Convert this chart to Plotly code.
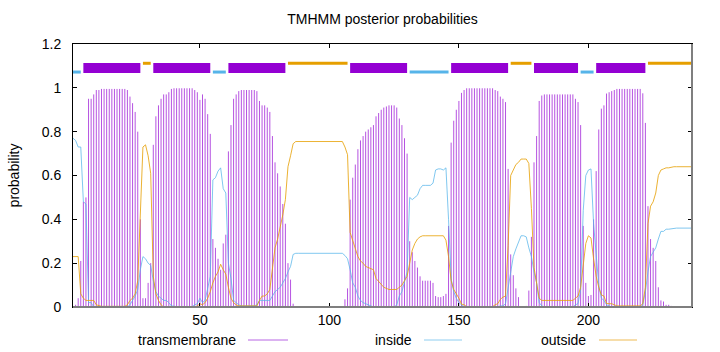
import plotly.graph_objects as go

# ---------------- data (residue 1..240) ----------------
residues = list(range(1, 241))

transmembrane = [
    0.00, 0.01, 0.04, 0.21, 0.48, 0.50, 0.95, 0.95, 0.97, 0.99,
    0.99, 0.995, 0.995, 0.995, 0.995, 0.995, 0.995, 0.995, 0.995, 0.995,
    0.995, 0.99, 0.96, 0.93, 0.89, 0.80, 0.40, 0.04, 0.04, 0.11,
    0.20, 0.74, 0.87, 0.92, 0.95, 0.97, 0.97, 0.98, 0.995, 0.998,
    0.998, 0.998, 0.998, 0.998, 0.998, 0.998, 0.998, 0.99, 0.98, 0.945,
    0.97, 0.95, 0.88, 0.79, 0.31, 0.27, 0.22, 0.17, 0.29, 0.33,
    0.71, 0.83, 0.95, 0.97, 0.985, 0.99, 0.99, 0.99, 0.99, 0.99,
    0.99, 0.985, 0.94, 0.92, 0.92, 0.91, 0.89, 0.78, 0.66, 0.61,
    0.55, 0.47, 0.38, 0.20, 0.125, 0.015, 0.0, 0.0, 0.0, 0.0,
    0.0, 0.0, 0.0, 0.0, 0.0, 0.0, 0.0, 0.0, 0.0, 0.0,
    0.0, 0.0, 0.0, 0.0, 0.0, 0.035, 0.085, 0.49, 0.59, 0.65,
    0.72, 0.76, 0.78, 0.80, 0.81, 0.82, 0.83, 0.87, 0.885, 0.90,
    0.91, 0.915, 0.92, 0.92, 0.92, 0.91, 0.86, 0.83, 0.77, 0.70,
    0.30, 0.25, 0.21, 0.18, 0.14, 0.12, 0.12, 0.12, 0.12, 0.11,
    0.05, 0.045, 0.045, 0.05, 0.06, 0.37, 0.75, 0.85, 0.90, 0.94,
    0.977, 0.99, 0.998, 0.998, 0.998, 0.998, 0.998, 0.998, 0.998, 0.998,
    0.998, 0.998, 0.998, 0.99, 0.985, 0.96, 0.95, 0.935, 0.63, 0.24,
    0.145, 0.085, 0.045, 0.0, 0.0, 0.005, 0.075, 0.32, 0.66, 0.78,
    0.94, 0.965, 0.97, 0.97, 0.97, 0.97, 0.97, 0.97, 0.97, 0.97,
    0.97, 0.97, 0.97, 0.97, 0.95, 0.935, 0.83, 0.37, 0.11, 0.05,
    0.055, 0.40, 0.62, 0.81, 0.905, 0.92, 0.974, 0.98, 0.985, 0.99,
    0.995, 0.995, 0.995, 0.995, 0.995, 0.995, 0.995, 0.995, 0.995, 0.995,
    0.975, 0.84, 0.46, 0.31, 0.27, 0.21, 0.09, 0.03, 0.025, 0.01,
    0.01, 0.005, 0.0, 0.0, 0.0, 0.0, 0.0, 0.0, 0.0, 0.0,
]

inside = [
    0.77, 0.76, 0.73, 0.73, 0.48, 0.47, 0.02, 0.02, 0.0, 0.0,
    0.002, 0.002, 0.002, 0.002, 0.002, 0.002, 0.002, 0.002, 0.002, 0.002,
    0.002, 0.0, 0.01, 0.03, 0.05, 0.08, 0.17, 0.23, 0.22, 0.20,
    0.19, 0.12, 0.07, 0.05, 0.04, 0.03, 0.03, 0.02, 0.005, 0.002,
    0.002, 0.002, 0.002, 0.002, 0.002, 0.002, 0.002, 0.01, 0.015, 0.04,
    0.02, 0.03, 0.08, 0.14, 0.58, 0.59, 0.62, 0.635, 0.54, 0.52,
    0.20, 0.13, 0.03, 0.02, 0.01, 0.005, 0.005, 0.005, 0.005, 0.005,
    0.005, 0.01, 0.03, 0.03, 0.03, 0.03, 0.03, 0.05, 0.07, 0.08,
    0.09, 0.11, 0.13, 0.16, 0.185, 0.24, 0.245, 0.245, 0.245, 0.245,
    0.245, 0.245, 0.245, 0.245, 0.245, 0.245, 0.245, 0.245, 0.245, 0.245,
    0.245, 0.245, 0.245, 0.245, 0.245, 0.235, 0.22, 0.17, 0.11, 0.09,
    0.05, 0.03, 0.02, 0.015, 0.01, 0.005, 0.0, 0.0, 0.0, 0.0,
    0.0, 0.0, 0.0, 0.0, 0.0, 0.01, 0.05, 0.07, 0.11, 0.16,
    0.50, 0.49, 0.50, 0.51, 0.54, 0.555, 0.555, 0.555, 0.555, 0.565,
    0.625, 0.63, 0.63, 0.625, 0.635, 0.40, 0.13, 0.07, 0.04, 0.02,
    0.01, 0.0, 0.0, 0.0, 0.0, 0.0, 0.0, 0.0, 0.0, 0.0,
    0.0, 0.0, 0.0, 0.0, 0.0, 0.005, 0.005, 0.015, 0.09, 0.16,
    0.23, 0.265, 0.295, 0.325, 0.325, 0.32, 0.27, 0.23, 0.16, 0.11,
    0.02, 0.005, 0.0, 0.0, 0.0, 0.0, 0.0, 0.0, 0.0, 0.0,
    0.0, 0.0, 0.0, 0.0, 0.01, 0.015, 0.08, 0.44, 0.60, 0.625,
    0.63, 0.38, 0.24, 0.10, 0.04, 0.03, 0.01, 0.005, 0.0, 0.0,
    0.0, 0.0, 0.0, 0.0, 0.0, 0.0, 0.0, 0.0, 0.0, 0.0,
    0.01, 0.07, 0.16, 0.23, 0.25, 0.27, 0.31, 0.345, 0.345, 0.355,
    0.355, 0.357, 0.36, 0.36, 0.36, 0.36, 0.36, 0.36, 0.36, 0.36,
]

outside = [
    0.23, 0.23, 0.23, 0.06, 0.04, 0.03, 0.03, 0.03, 0.03, 0.01,
    0.005, 0.003, 0.003, 0.003, 0.003, 0.003, 0.003, 0.003, 0.003, 0.003,
    0.003, 0.01, 0.03, 0.04, 0.06, 0.12, 0.43, 0.73, 0.74, 0.69,
    0.61, 0.14, 0.06, 0.03, 0.01, 0.0, 0.0, 0.0, 0.0, 0.0,
    0.0, 0.0, 0.0, 0.0, 0.0, 0.0, 0.0, 0.0, 0.005, 0.015,
    0.01, 0.02, 0.04, 0.07, 0.11, 0.14, 0.16, 0.195, 0.17, 0.15,
    0.09, 0.04, 0.02, 0.01, 0.005, 0.005, 0.005, 0.005, 0.005, 0.005,
    0.005, 0.005, 0.03, 0.05, 0.05, 0.06, 0.08, 0.17, 0.27, 0.31,
    0.36, 0.42, 0.49, 0.64, 0.69, 0.745, 0.755, 0.755, 0.755, 0.755,
    0.755, 0.755, 0.755, 0.755, 0.755, 0.755, 0.755, 0.755, 0.755, 0.755,
    0.755, 0.755, 0.755, 0.755, 0.755, 0.73, 0.695, 0.34, 0.30, 0.26,
    0.23, 0.21, 0.20, 0.185, 0.18, 0.175, 0.17, 0.13, 0.115, 0.10,
    0.09, 0.085, 0.08, 0.08, 0.08, 0.08, 0.09, 0.10, 0.12, 0.14,
    0.20, 0.26, 0.29, 0.31, 0.32, 0.325, 0.325, 0.325, 0.325, 0.325,
    0.325, 0.325, 0.325, 0.325, 0.305, 0.23, 0.12, 0.08, 0.06, 0.04,
    0.013, 0.01, 0.002, 0.002, 0.002, 0.002, 0.002, 0.002, 0.002, 0.002,
    0.002, 0.002, 0.002, 0.01, 0.015, 0.035, 0.045, 0.05, 0.28, 0.60,
    0.625, 0.65, 0.66, 0.675, 0.675, 0.675, 0.655, 0.45, 0.18, 0.11,
    0.04, 0.03, 0.03, 0.03, 0.03, 0.03, 0.03, 0.03, 0.03, 0.03,
    0.03, 0.03, 0.03, 0.03, 0.04, 0.05, 0.09, 0.19, 0.29, 0.325,
    0.315, 0.22, 0.14, 0.09, 0.055, 0.05, 0.016, 0.015, 0.015, 0.01,
    0.005, 0.005, 0.005, 0.005, 0.005, 0.005, 0.005, 0.005, 0.005, 0.005,
    0.015, 0.09, 0.38, 0.46, 0.48, 0.52, 0.60, 0.625, 0.63, 0.635,
    0.635, 0.638, 0.64, 0.64, 0.64, 0.64, 0.64, 0.64, 0.64, 0.64,
]

# predicted topology segments (top bars)
seg_type = ["inside", "TMhelix", "outside", "TMhelix", "inside", "TMhelix", "outside",
            "TMhelix", "inside", "TMhelix", "outside", "TMhelix", "inside", "TMhelix", "outside"]
seg_start = [1, 5, 28, 32, 55, 61, 84, 108, 131, 147, 170, 179, 197, 203, 223]
seg_end = [4, 27, 31, 54, 60, 83, 107, 130, 146, 169, 178, 196, 202, 222, 240]
seg_level = {"inside": 1.072, "TMhelix": 1.09, "outside": 1.112}

x_ticks = [50, 100, 150, 200]
y_ticks = [0, 0.2, 0.4, 0.6, 0.8, 1.0, 1.2]
legend_names = ["transmembrane", "inside", "outside"]

# ---------------- styling ----------------
C_TM = "rgba(148,0,211,0.68)"
C_IN = "rgba(86,180,233,0.75)"
C_OUT = "rgba(230,159,0,0.8)"
LEG_COL = ["#b866e4", "#8ecdf0", "#eebb55"]
BAR_COL = {"inside": "#56b4e9", "TMhelix": "#9400d3", "outside": "#e69f00"}
BAR_W = {"inside": 3, "TMhelix": 10, "outside": 3}
FONT = "Liberation Sans, Arial, sans-serif"

fig = go.Figure()

# transmembrane impulses
xi, yi = [], []
for r, v in zip(residues, transmembrane):
    xi += [r, r, None]
    yi += [0, v, None]
fig.add_trace(go.Scatter(x=xi, y=yi, mode="lines", line=dict(color=C_TM, width=1),
                         name="transmembrane", showlegend=False, hoverinfo="skip"))

fig.add_trace(go.Scatter(x=residues, y=inside, mode="lines", line=dict(color=C_IN, width=1),
                         name="inside", showlegend=False))
fig.add_trace(go.Scatter(x=residues, y=outside, mode="lines", line=dict(color=C_OUT, width=1),
                         name="outside", showlegend=False))

# topology bars
for kind in ["inside", "outside", "TMhelix"]:
    bx, by = [], []
    for t, s, e in zip(seg_type, seg_start, seg_end):
        if t == kind:
            bx += [s, e, None]
            by += [seg_level[kind], seg_level[kind], None]
    fig.add_trace(go.Scatter(x=bx, y=by, mode="lines",
                             line=dict(color=BAR_COL[kind], width=BAR_W[kind]),
                             showlegend=False, hoverinfo="skip"))

# manual gnuplot-style legend (text then sample line)
L, R, T, B = 73, 692, 44, 307
def px2x(px):
    return (px - L) / (R - L)
def py2y(py):
    return (B - py) / (B - T)

leg_text_right = [238, 414, 588]
leg_line = [(248, 288), (424, 462), (599, 637)]
leg_y = 340
annotations = []
shapes = []
for name, tr, (l0, l1), c in zip(legend_names, leg_text_right, leg_line, LEG_COL):
    annotations.append(dict(x=px2x(tr), y=py2y(leg_y), xref="paper", yref="paper",
                            text=name, showarrow=False, xanchor="right", yanchor="middle",
                            font=dict(family=FONT, size=14, color="#000")))
    shapes.append(dict(type="line", xref="paper", yref="paper",
                       x0=px2x(l0), x1=px2x(l1), y0=py2y(leg_y), y1=py2y(leg_y),
                       line=dict(color=c, width=1)))

# gray bottom/right border (as in gnuplot render)
shapes.append(dict(type="line", xref="paper", yref="paper", x0=0, x1=1, y0=0, y1=0,
                   line=dict(color="#7f7f7f", width=2), layer="above"))
shapes.append(dict(type="line", xref="paper", yref="paper", x0=1, x1=1, y0=0, y1=1,
                   line=dict(color="#7f7f7f", width=2), layer="above"))

fig.update_layout(
    width=720, height=352,
    margin=dict(l=L, r=720 - R, t=T, b=352 - B, pad=0),
    paper_bgcolor="white", plot_bgcolor="white",
    font=dict(family=FONT, size=14, color="#000"),
    title=dict(text="TMHMM posterior probabilities", x=(382.5 / 720), xanchor="center",
               y=1 - 19 / 352, yanchor="middle", yref="container",
               font=dict(family=FONT, size=14, color="#000")),
    annotations=annotations,
    shapes=shapes,
    showlegend=False,
)

fig.update_xaxes(range=[1, 240], tickmode="array", tickvals=x_ticks,
                 ticks="inside", ticklen=4, tickcolor="#000", tickwidth=1,
                 showline=True, linecolor="#000", linewidth=1, mirror="ticks",
                 showgrid=False, zeroline=False, tickfont=dict(size=14))
fig.update_yaxes(range=[0, 1.2], tickmode="array", tickvals=y_ticks,
                 ticktext=["0", "0.2", "0.4", "0.6", "0.8", "1", "1.2"],
                 ticks="inside", ticklen=4, tickcolor="#000", tickwidth=1,
                 showline=True, linecolor="#000", linewidth=1, mirror="ticks",
                 showgrid=False, zeroline=False, tickfont=dict(size=14),
                 ticklabelstandoff=8,
                 title=dict(text="probability", standoff=18, font=dict(size=14)))

fig.write_html("out.html")
